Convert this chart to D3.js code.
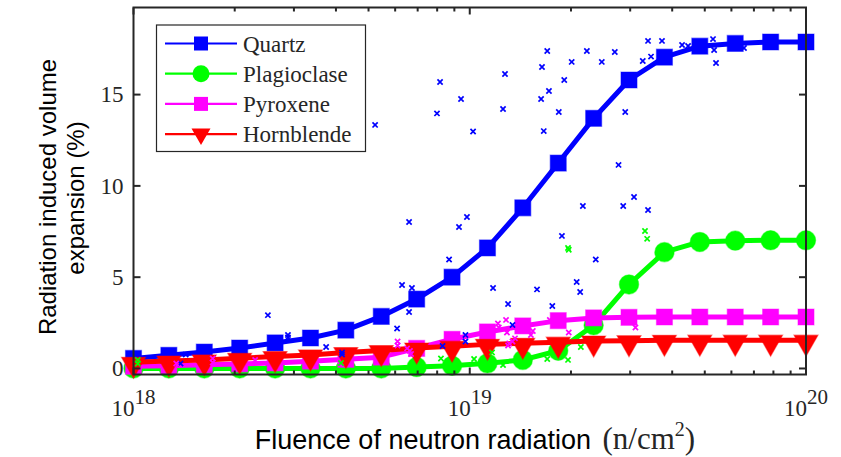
<!DOCTYPE html>
<meta charset="utf-8">
<style>
  body { margin: 0; background: #fff; }
  svg { display: block; }
  .serif { font-family: "Liberation Serif", "Times New Roman", serif; fill: #262626; }
  .sans { font-family: "Liberation Sans", Arial, sans-serif; fill: #000; }
</style>
<body>
<svg id="chart" width="841" height="457"></svg>
<script src="https://d3js.org/d3.v7.min.js"></script>
<script>
  // model curves, 20 fluence steps
  const fluence = [1.000e18, 1.274e18, 1.624e18, 2.069e18, 2.637e18, 3.360e18, 4.281e18, 5.456e18, 6.952e18, 8.859e18,
                   1.129e19, 1.438e19, 1.833e19, 2.336e19, 2.976e19, 3.793e19, 4.833e19, 6.159e19, 7.848e19, 1.000e20];
  const quartz      = [0.55, 0.72, 0.9, 1.12, 1.4, 1.67, 2.1, 2.85, 3.8, 5.0, 6.6, 8.8, 11.25, 13.7, 15.8, 17.05, 17.65, 17.8, 17.88, 17.88];
  const plagioclase = [0.0, 0.0, 0.0, 0.0, 0.0, 0.0, 0.0, 0.0, 0.08, 0.15, 0.28, 0.47, 0.97, 2.37, 4.6, 6.37, 6.93, 7.0, 7.02, 7.02];
  const pyroxene    = [0.12, 0.15, 0.2, 0.25, 0.3, 0.4, 0.5, 0.62, 1.1, 1.6, 2.0, 2.33, 2.62, 2.77, 2.8, 2.82, 2.82, 2.82, 2.82, 2.82];
  const hornblende  = [0.34, 0.41, 0.47, 0.56, 0.65, 0.74, 0.87, 0.98, 1.12, 1.22, 1.32, 1.38, 1.44, 1.5, 1.52, 1.54, 1.55, 1.55, 1.55, 1.55];

  // measured points [fluence, expansion %]
  const quartzPts = [
    [1.38e18, 0.27], [1.43e18, 0.76], [2.51e18, 2.92], [2.88e18, 1.83], [2.88e18, 1.7], [3.74e18, 1.18],
    [4.17e18, 0.88], [4.17e18, 0.76], [5.23e18, 13.34], [6.08e18, 2.19], [6.29e18, 4.57], [6.6e18, 3.09],
    [6.6e18, 8.02], [6.73e18, 4.41], [7.99e18, 13.97], [8.16e18, 15.69], [8.3e18, 1.23], [8.68e18, 5.97],
    [9.29e18, 7.75], [9.42e18, 14.76], [9.71e18, 1.83], [9.71e18, 1.48], [9.81e18, 8.3], [1.023e19, 12.98],
    [1.173e19, 4.41], [1.256e19, 14.21], [1.273e19, 16.13], [1.3e19, 3.53], [1.34e19, 2.38], [1.585e19, 4.33],
    [1.63e19, 14.76], [1.64e19, 16.51], [1.66e19, 13.0], [1.7e19, 17.39], [1.72e19, 15.2], [1.76e19, 3.42],
    [1.84e19, 14.05], [1.88e19, 7.26], [1.91e19, 15.8], [2.01e19, 16.79], [2.08e19, 4.74], [2.13e19, 4.19],
    [2.17e19, 8.9], [2.23e19, 17.39], [2.37e19, 5.97], [2.47e19, 16.79], [2.7e19, 17.33], [2.77e19, 11.15],
    [2.86e19, 8.9], [2.9e19, 14.05], [3.08e19, 9.39], [3.27e19, 16.84], [3.39e19, 17.94], [3.39e19, 8.68],
    [3.46e19, 17.08], [3.73e19, 17.94], [4.28e19, 17.72], [4.46e19, 17.66], [5.29e19, 18.04], [5.33e19, 17.44],
    [5.4e19, 16.73], [6.54e19, 17.55]
  ];
  const plagioclasePts = [
    [1.03e18, 0.47], [1.03e18, 0.27], [4.14e18, 0.3], [8.21e18, 0.55], [1.03e19, 0.52], [1.165e19, 0.88],
    [1.256e19, 0.19], [1.7e19, 0.52], [1.96e19, 6.6], [1.97e19, 6.5], [1.96e19, 0.47], [2.14e19, 1.18],
    [3.32e19, 7.53], [3.37e19, 7.1]
  ];
  const pyroxenePts = [
    [1.34e18, 0.27], [1.72e18, 0.55], [1.72e18, 0.33], [2.3e18, 0.47], [6.1e18, 1.48], [6.1e18, 1.26],
    [6.51e18, 1.1], [6.64e18, 0.96], [6.69e18, 0.79], [1.213e19, 2.46], [1.22e19, 2.24], [1.282e19, 2.66],
    [1.29e19, 1.97], [1.3e19, 1.26], [1.31e19, 1.37], [1.34e19, 1.48], [1.363e19, 1.65], [1.52e19, 1.83],
    [1.54e19, 2.05], [1.73e19, 2.66], [1.97e19, 1.97], [3.11e19, 2.24]
  ];

  const yTicks = [0, 5, 10, 15];
  const xTickExp = [18, 19, 20];
  const legendNames = ["Quartz", "Plagioclase", "Pyroxene", "Hornblende"];

  const svg = d3.select("#chart");
  const L = 133.5, R = 806, T = 7.5, B = 374.5;
  const axisColor = "#262626";

  const x = d3.scaleLog().domain([1e18, 1e20]).range([L, R]);
  const y = d3.scaleLinear().domain([-0.33, 19.77]).range([B, T]);

  const series = [
    { name: "Quartz", vals: quartz, color: "#0000ff", marker: "square" },
    { name: "Plagioclase", vals: plagioclase, color: "#00ff00", marker: "circle" },
    { name: "Pyroxene", vals: pyroxene, color: "#ff00ff", marker: "square" },
    { name: "Hornblende", vals: hornblende, color: "#ff0000", marker: "triangle" }
  ];

  function markerPath(type, big) {
    if (type === "square") { const h = big ? 8 : 7; return `M${-h},${-h}H${h}V${h}H${-h}Z`; }
    if (type === "circle") { const r = big ? 9.7 : 8.5; return `M${r},0A${r},${r} 0 1,1 ${-r},0A${r},${r} 0 1,1 ${r},0Z`; }
    return big ? "M-12,-5H12L0,16Z" : "M-9.5,-5.5H9.5L0,11Z";
  }

  const plot = svg.append("g");
  const line = d3.line().x((d, i) => x(fluence[i])).y(d => y(d));

  series.forEach(s => {
    const g = plot.append("g");
    g.append("path")
      .attr("d", line(s.vals))
      .attr("fill", "none")
      .attr("stroke", s.color)
      .attr("stroke-width", 5)
      .attr("stroke-linejoin", "round");
    g.selectAll("path.mk")
      .data(s.vals)
      .join("path")
      .attr("class", "mk")
      .attr("d", markerPath(s.marker, true))
      .attr("transform", (d, i) => `translate(${x(fluence[i])},${y(d)})`)
      .attr("fill", s.color)
      .attr("stroke", s.color)
      .attr("stroke-opacity", 0.45)
      .attr("stroke-width", 1.2);
  });

  // measured scatter, x markers
  const scat = [
    { pts: quartzPts, color: "#0000ff" },
    { pts: plagioclasePts, color: "#00ff00" },
    { pts: pyroxenePts, color: "#ff00ff" }
  ];
  scat.forEach(s => {
    plot.append("g").selectAll("path")
      .data(s.pts)
      .join("path")
      .attr("d", "M-2.6,-2.6L2.6,2.6M-2.6,2.6L2.6,-2.6")
      .attr("transform", d => `translate(${x(d[0])},${y(d[1])})`)
      .attr("stroke", s.color)
      .attr("stroke-width", 1.7)
      .attr("fill", "none");
  });

  // axes box
  const ax = svg.append("g");
  ax.append("rect")
    .attr("x", L).attr("y", T).attr("width", R - L).attr("height", B - T)
    .attr("fill", "none").attr("stroke", axisColor).attr("stroke-width", 2);

  // y ticks
  yTicks.forEach(v => {
    const py = y(v);
    ax.append("line").attr("x1", L).attr("x2", L + 7).attr("y1", py).attr("y2", py)
      .attr("stroke", axisColor).attr("stroke-width", 2);
    ax.append("line").attr("x1", R).attr("x2", R - 7).attr("y1", py).attr("y2", py)
      .attr("stroke", axisColor).attr("stroke-width", 2);
    ax.append("text").attr("class", "serif")
      .attr("x", L - 10).attr("y", py).attr("dy", "0.34em")
      .attr("text-anchor", "end").attr("font-size", 23)
      .text(v);
  });

  // x ticks, log majors + minors
  const minors = [];
  [18, 19].forEach(e => { for (let k = 2; k <= 9; k++) minors.push(k * Math.pow(10, e)); });
  minors.forEach(v => {
    const px = x(v);
    ax.append("line").attr("x1", px).attr("x2", px).attr("y1", B).attr("y2", B - 4)
      .attr("stroke", axisColor).attr("stroke-width", 2);
    ax.append("line").attr("x1", px).attr("x2", px).attr("y1", T).attr("y2", T + 4)
      .attr("stroke", axisColor).attr("stroke-width", 2);
  });
  xTickExp.forEach(e => {
    const px = x(Math.pow(10, e));
    ax.append("line").attr("x1", px).attr("x2", px).attr("y1", B).attr("y2", B - 7)
      .attr("stroke", axisColor).attr("stroke-width", 2);
    ax.append("line").attr("x1", px).attr("x2", px).attr("y1", T).attr("y2", T + 7)
      .attr("stroke", axisColor).attr("stroke-width", 2);
    const t = ax.append("text").attr("class", "serif")
      .attr("x", px).attr("y", 416).attr("text-anchor", "middle").attr("font-size", 23);
    t.append("tspan").text("10");
    t.append("tspan").attr("dy", -12).attr("font-size", 21).text(e);
  });

  // legend
  const lg = svg.append("g");
  lg.append("rect").attr("x", 156.5).attr("y", 25).attr("width", 209).attr("height", 126.5)
    .attr("fill", "#fff").attr("stroke", axisColor).attr("stroke-width", 1.2);
  series.forEach((s, i) => {
    const cy = 43.5 + i * 30.2;
    lg.append("line").attr("x1", 165).attr("x2", 237).attr("y1", cy).attr("y2", cy)
      .attr("stroke", s.color).attr("stroke-width", 2.2);
    lg.append("path").attr("d", markerPath(s.marker, false))
      .attr("transform", `translate(201,${cy})`).attr("fill", s.color);
    lg.append("text").attr("class", "serif").attr("x", 243).attr("y", cy + 8)
      .attr("font-size", 23).attr("fill", "#000").text(legendNames[i]);
  });

  // axis labels
  svg.append("text").attr("class", "sans").attr("font-size", 24)
    .attr("text-anchor", "middle")
    .attr("transform", "translate(56,197) rotate(-90)")
    .text("Radiation induced volume");
  svg.append("text").attr("class", "sans").attr("font-size", 24)
    .attr("text-anchor", "middle")
    .attr("transform", "translate(84,198) rotate(-90)")
    .text("expansion (%)");

  const xl = svg.append("text").attr("x", 475).attr("y", 449).attr("text-anchor", "middle");
  xl.append("tspan").attr("class", "sans").attr("font-size", 27).text("Fluence of neutron radiation ");
  xl.append("tspan").attr("class", "serif").attr("fill", "#000").attr("font-size", 31).attr("dx", 4).text("(n/cm");
  xl.append("tspan").attr("class", "serif").attr("fill", "#000").attr("font-size", 20).attr("dy", -13).text("2");
  xl.append("tspan").attr("class", "serif").attr("fill", "#000").attr("font-size", 31).attr("dy", 13).text(")");
</script>
</body>
